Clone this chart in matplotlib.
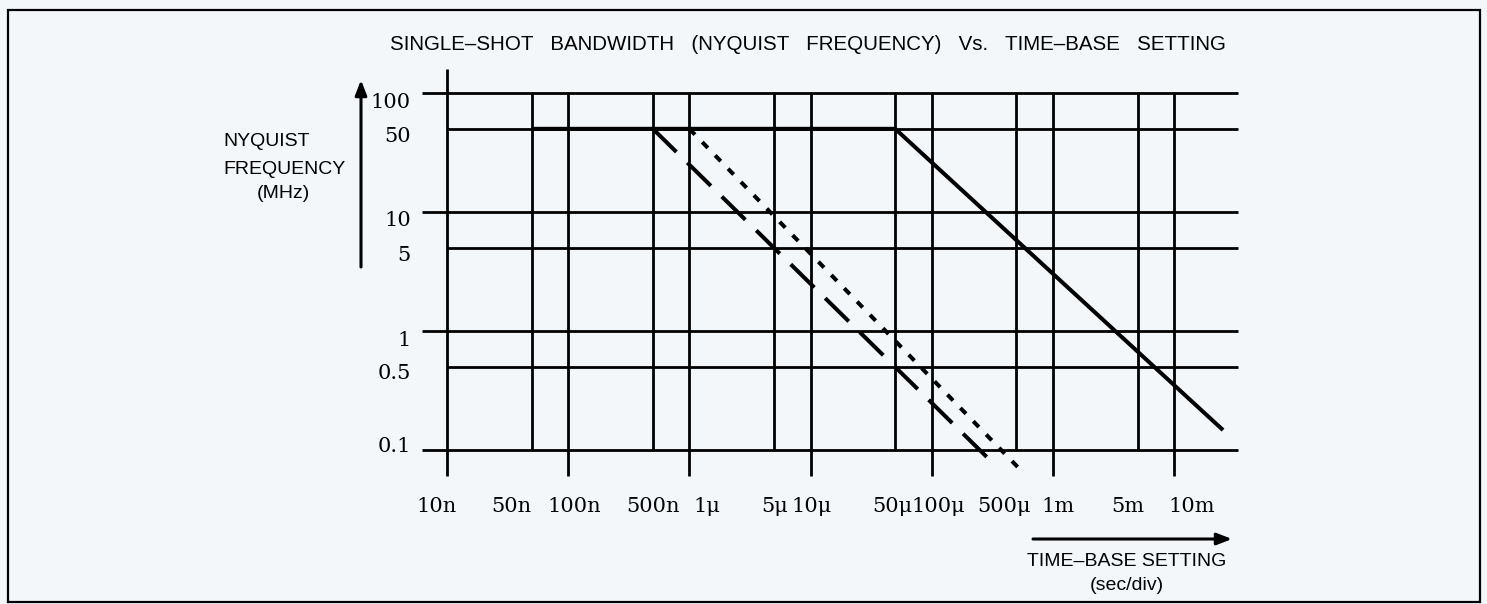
import numpy as np
import matplotlib.pyplot as plt
from matplotlib.patches import Rectangle
from matplotlib.transforms import ScaledTranslation

# 时基设置刻度（秒/格）
time_ticks = [10e-9, 50e-9, 100e-9, 500e-9, 1e-6, 5e-6, 10e-6, 50e-6, 100e-6, 500e-6, 1e-3, 5e-3, 10e-3]
time_labels = ['10n', '50n', '100n', '500n', '1μ', '5μ', '10μ', '50μ', '100μ', '500μ', '1m', '5m', '10m']

# 频率刻度（MHz）
freq_ticks = [0.1, 0.5, 1, 5, 10, 50, 100]
freq_labels = ['0.1', '0.5', '1', '5', '10', '50', '100']

# 三条曲线
solid_t = [50e-9, 50e-6, 25.4e-3]
solid_f = [50, 50, 0.147]
dash_t = [500e-9, 300e-6]
dash_f = [50, 0.083]
dot_t = [1e-6, 565e-6]
dot_f = [50, 0.065]

# 原图里刻度文字的手工偏移（像素）
xlabel_shift = [-10, -20, 6, 0, 18, 1, 1, -3, 7, -12, 5, -10, 18]
ylabel_shift = [-6, 5, 7, 6, 7, 6, 7]

W, H = 1487, 604
bg = '#f4f7fa'
fig = plt.figure(figsize=(W / 100, H / 100), dpi=100, facecolor=bg)

# 坐标轴位置按像素摆放
x0, x1, y0, y1 = 447, 1174, 93, 450
ax = fig.add_axes([x0 / W, 1 - y1 / H, (x1 - x0) / W, (y1 - y0) / H])
ax.set_facecolor('none')
ax.set_xscale('log')
ax.set_yscale('log')
ax.set_xlim(time_ticks[0], time_ticks[-1])
ax.set_ylim(freq_ticks[0], freq_ticks[-1])
for s in ax.spines.values():
    s.set_visible(False)

grid_lw = 2.0
# 横向网格线：整十的向左伸出
for f in freq_ticks:
    decade = np.isclose(np.log10(f), round(np.log10(f)))
    ax.hlines(f, -0.034 if decade else 0, 1.088, transform=ax.get_yaxis_transform(),
              colors='k', lw=grid_lw, clip_on=False, zorder=1)
# 纵向网格线：整十的向下伸出，最左边一根向上伸出
for i, t in enumerate(time_ticks):
    decade = np.isclose(np.log10(t), round(np.log10(t)))
    top = 1.067 if i == 0 else 1
    ax.vlines(t, -0.073 if decade else 0, top, transform=ax.get_xaxis_transform(),
              colors='k', lw=grid_lw, clip_on=False, zorder=1)

line_lw = 2.9
ax.plot(solid_t, solid_f, color='k', lw=line_lw, solid_capstyle='butt', clip_on=False, zorder=3)
ax.plot(dash_t, dash_f, color='k', lw=line_lw, dashes=(8.2, 3.8), dash_capstyle='butt', clip_on=False, zorder=3)
ax.plot(dot_t, dot_f, color='k', lw=line_lw, dashes=(2.0, 2.6), dash_capstyle='butt', clip_on=False, zorder=3)

serif = 'DejaVu Serif'
ax.minorticks_off()
ax.set_xticks(time_ticks)
ax.set_xticklabels(time_labels, fontfamily=serif, fontsize=15)
ax.set_yticks(freq_ticks)
ax.set_yticklabels(freq_labels, fontfamily=serif, fontsize=15)
ax.tick_params(axis='x', length=0, pad=34)
ax.tick_params(axis='y', length=0, pad=26)
for lab, dx in zip(ax.get_xticklabels(), xlabel_shift):
    lab.set_transform(lab.get_transform() + ScaledTranslation(dx / 100, 0, fig.dpi_scale_trans))
for lab, dy in zip(ax.get_yticklabels(), ylabel_shift):
    lab.set_transform(lab.get_transform() + ScaledTranslation(0, -dy / 100, fig.dpi_scale_trans))


def px(x, y):
    return (x / W, 1 - y / H)


sans = 'Liberation Sans'
fig.text(*px(808, 45), 'SINGLE–SHOT   BANDWIDTH   (NYQUIST   FREQUENCY)   Vs.   TIME–BASE   SETTING',
         ha='center', va='center', fontsize=14.8, fontfamily=sans)
fig.text(*px(223, 142), 'NYQUIST', ha='left', va='center', fontsize=14, fontfamily=sans)
fig.text(*px(223, 169), 'FREQUENCY', ha='left', va='center', fontsize=14, fontfamily=sans)
fig.text(*px(283, 193), '(MHz)', ha='center', va='center', fontsize=14, fontfamily=sans)
fig.text(*px(1127, 562), 'TIME–BASE SETTING', ha='center', va='center', fontsize=14, fontfamily=sans)
fig.text(*px(1127, 585), '(sec/div)', ha='center', va='center', fontsize=14, fontfamily=sans)

# 坐标箭头
arrow = dict(arrowstyle='-|>,head_length=0.9,head_width=0.35', color='k', lw=2.2, shrinkA=0, shrinkB=0)
ax.annotate('', xy=(361, H - 80), xytext=(361, H - 267), xycoords='figure pixels',
            textcoords='figure pixels', arrowprops=arrow)
ax.annotate('', xy=(1232, H - 539), xytext=(1033, H - 539), xycoords='figure pixels',
            textcoords='figure pixels', arrowprops=arrow)

# 外框
fig.patches.append(Rectangle((8 / W, 1 - 602 / H), 1472 / W, 592 / H, transform=fig.transFigure,
                             fill=False, edgecolor='k', lw=1.6))

fig.savefig('out.png', dpi=100, facecolor=bg)
